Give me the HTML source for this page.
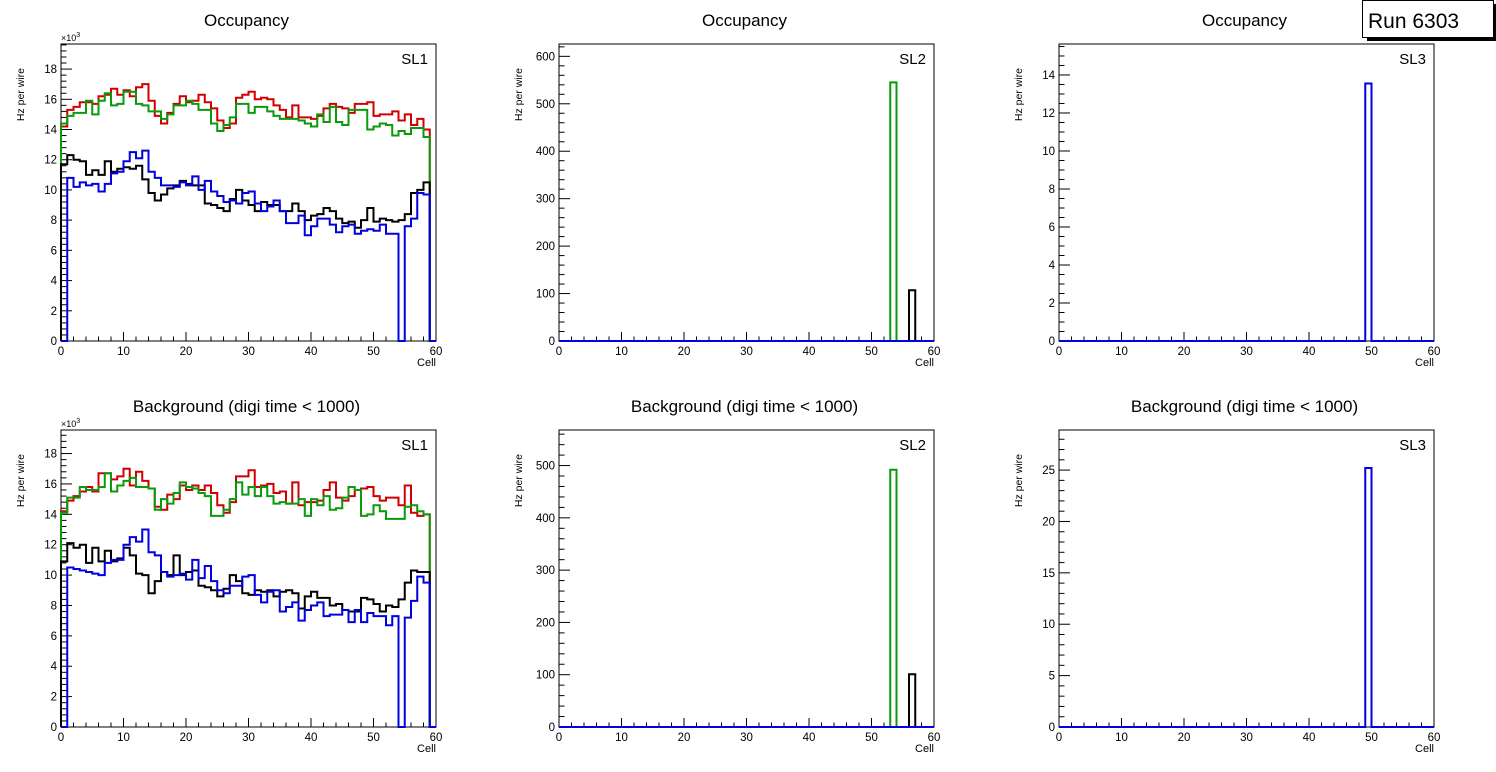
<!DOCTYPE html>
<html><head><meta charset="utf-8"><style>
body{margin:0;background:#fff;width:1496px;height:772px;overflow:hidden;font-family:"Liberation Sans",Arial,sans-serif}
svg{display:block}
</style></head><body>
<svg id="c" width="1496" height="772"></svg>
<script>
const cells = 60;
// SL1 occupancy (x10^3)
const occRed=[14.2,15.3,15.5,15.8,15.8,15.7,16.2,16.3,16.7,16.3,16.6,16.2,16.8,17.0,15.9,14.9,14.4,15.1,15.7,16.2,15.8,15.9,16.3,15.8,15.4,14.6,14.1,14.4,16.1,16.3,16.5,16.0,16.1,16.0,15.6,15.3,14.8,15.6,14.8,14.8,14.7,14.9,15.4,15.7,15.5,15.4,15.1,15.7,15.7,15.8,14.9,15.0,15.0,15.2,14.6,15.0,14.3,14.7,14.0,0];
const occGreen=[14.4,14.9,15.1,15.1,15.9,15.0,15.9,16.4,15.6,15.7,16.5,16.5,15.7,15.6,15.2,15.2,14.7,15.0,15.6,15.6,15.9,15.7,15.3,15.3,14.4,13.9,14.3,14.8,15.7,15.7,15.1,15.5,15.5,15.2,14.9,14.7,14.7,14.7,14.6,14.4,14.2,15.0,14.5,15.5,14.5,14.3,15.3,15.3,15.3,14.0,14.2,14.4,14.3,13.6,13.9,13.7,14.1,14.1,13.5,0];
const occBlack=[11.7,12.3,12.0,11.9,11.0,11.3,11.0,11.9,11.2,11.4,11.5,11.4,11.6,10.7,9.8,9.3,9.7,10.1,10.3,10.6,10.4,10.3,10.3,9.1,9.0,8.8,8.6,9.4,10.0,9.3,9.0,8.6,9.2,9.0,9.0,8.6,8.6,9.1,8.6,8.0,8.3,8.4,8.8,8.6,8.1,7.8,7.9,7.5,8.0,8.8,7.9,8.1,8.0,7.9,8.0,8.4,9.8,10.0,10.5,0];
const occBlue=[0,10.8,10.2,10.5,10.3,10.4,9.9,10.4,11.1,11.2,11.9,12.5,12.1,12.6,11.2,10.8,10.3,10.3,10.2,10.5,10.3,10.9,10.0,10.6,9.9,9.6,9.2,9.3,9.1,9.8,9.9,9.1,8.6,8.9,9.3,8.6,7.8,7.8,8.3,7.0,7.6,8.1,8.1,7.7,7.2,7.6,7.7,7.1,7.3,7.4,7.3,7.7,7.1,7.1,0,7.6,8.1,9.8,9.7,0];
// SL1 background (x10^3)
const bkgRed=[14.2,14.9,15.2,15.5,15.8,15.5,16.7,16.7,16.3,16.5,17.0,15.9,16.8,16.2,15.7,14.5,14.3,15.3,15.0,15.9,15.6,15.9,15.6,15.9,15.4,14.6,14.1,14.8,16.5,16.5,16.9,15.8,15.9,16.0,15.4,15.5,14.7,16.1,14.6,14.8,14.8,14.9,15.6,16.1,15.1,14.9,15.2,15.6,15.7,15.8,15.2,14.9,15.1,15.1,14.6,15.9,14.1,13.9,14.0,0];
const bkgGreen=[14.1,15.1,15.1,15.8,15.6,15.6,15.8,16.7,15.5,15.9,16.2,16.4,15.8,15.8,15.7,14.3,15.0,14.7,15.4,16.1,15.8,15.7,15.4,15.2,13.9,13.9,14.3,15.0,16.1,15.3,15.8,15.2,15.8,15.2,14.7,14.8,14.7,14.7,15.0,13.9,15.0,14.6,15.2,14.3,14.4,15.1,15.8,15.6,13.9,14.0,14.6,14.2,13.7,13.7,13.7,14.5,14.6,14.2,14.0,0];
const bkgBlack=[10.9,12.1,11.8,12.0,10.8,11.8,10.9,11.6,10.9,11.1,11.8,11.3,10.1,10.0,8.8,9.6,10.2,10.0,11.3,10.0,10.2,10.3,9.3,9.2,9.0,8.6,9.1,10.0,9.6,8.8,8.7,9.0,8.9,9.0,8.6,8.9,9.0,8.8,7.8,8.6,8.9,8.5,8.5,8.0,8.1,7.7,7.6,7.6,8.5,8.4,8.1,7.6,8.0,7.9,8.4,9.5,10.3,10.2,10.2,0];
const bkgBlue=[0,10.5,10.4,10.3,10.2,10.1,10.0,10.8,11.0,11.0,12.0,12.5,12.2,13.0,11.5,11.3,10.2,9.9,10.0,10.1,9.7,11.0,9.8,10.6,9.6,9.0,8.8,9.3,9.3,9.9,10.0,8.7,8.2,8.9,9.0,7.6,7.9,8.2,7.0,7.7,8.0,8.2,7.3,7.4,7.4,7.7,6.9,7.7,6.9,7.5,7.3,7.3,6.7,7.3,0,7.2,8.3,9.9,9.5,0];
// Spike bins for SL2 / SL3 : [bin, value]
const occSL2Green=[[53,545]], occSL2Black=[[56,107]];
const bkgSL2Green=[[53,492]], bkgSL2Black=[[56,101]];
const occSL3Blue=[[49,13.55]], bkgSL3Blue=[[49,25.2]];

const NS="http://www.w3.org/2000/svg";
const svg=document.getElementById('c');
function mk(tag,attrs,parent){const e=document.createElementNS(NS,tag);for(const k in attrs)e.setAttribute(k,attrs[k]);(parent||svg).appendChild(e);return e;}
function spikes(list){const a=new Array(cells).fill(0);list.forEach(p=>a[p[0]]=p[1]);return a;}

function panel(o){
  const g=mk('g',{});
  
  
  const L=o.x,R=o.x+375,T=o.y,B=o.y+297;
  const xs=v=>L+(v/cells)*(R-L);
  const ys=v=>B-(v/o.ymax)*(B-T);
  const t=mk('text',{x:(L+R)/2-2,y:T-18,'text-anchor':'middle','font-size':17,fill:'#000'},g);t.textContent=o.title;
  
  const fr=mk('rect',{x:L,y:T,width:R-L,height:B-T,fill:'none',stroke:'#000','stroke-width':1},g);
  
  // x ticks
  for(let v=0;v<=60;v+=2){const maj=v%10==0;mk('line',{x1:xs(v),x2:xs(v),y1:B,y2:B-(maj?9:4.5),stroke:'#000'},g);
    if(maj){const tx=mk('text',{x:xs(v),y:B+14,'text-anchor':'middle','font-size':11.5},g);tx.textContent=v;}}
  const xl=mk('text',{x:R,y:B+25,'text-anchor':'end','font-size':11},g);xl.textContent='Cell';
  
  // y ticks
  for(let k=0;k*o.minor<=o.ymax+1e-9;k++){const v=k*o.minor;const maj=k%o.sub==0;
    mk('line',{x1:L,x2:L+(maj?11:5.5),y1:ys(v),y2:ys(v),stroke:'#000'},g);
    if(maj){const ty=mk('text',{x:L-4,y:ys(v)+4,'text-anchor':'end','font-size':11.5},g);ty.textContent=o.fmt?o.fmt(v):v;}}
  const yl=mk('text',{transform:`translate(${L-37},${T+24}) rotate(-90)`,'text-anchor':'end','font-size':10.5},g);yl.textContent='Hz per wire';
  
  if(o.exp){const ex=mk('text',{x:L,y:T-3,'font-size':9},g);ex.innerHTML='×10<tspan dy="-4" font-size="7">3</tspan>';}
  const sl=mk('text',{x:R-8,y:T+20,'text-anchor':'end','font-size':15},g);sl.textContent=o.sl;
  
  // series (drawn over frame)
  o.series.forEach((s,si)=>{
    let d='M'+xs(0)+','+ys(0);
    for(let i=0;i<cells;i++){d+=' L'+xs(i)+','+ys(s.v[i])+' L'+xs(i+1)+','+ys(s.v[i]);}
    d+=' L'+xs(cells)+','+ys(0);
    const p=mk('path',{d:d,fill:'none',stroke:s.c,'stroke-width':2},g);
    
  });
}
const Z=new Array(cells).fill(0);
const r=v=>Math.round(v);
panel({name:'occupancy-sl1',x:61,y:44,title:'Occupancy',sl:'SL1',ymax:19.66,minor:0.4,sub:5,exp:true,fmt:r,
  series:[{v:occRed,c:'#d00000',n:'series-red'},{v:occGreen,c:'#0a9a0a',n:'series-green'},{v:occBlack,c:'#000',n:'series-black'},{v:occBlue,c:'#0000e0',n:'series-blue'}]});
panel({name:'background-sl1',x:61,y:430,title:'Background (digi time < 1000)',sl:'SL1',ymax:19.55,minor:0.4,sub:5,exp:true,fmt:r,
  series:[{v:bkgRed,c:'#d00000',n:'series-red'},{v:bkgGreen,c:'#0a9a0a',n:'series-green'},{v:bkgBlack,c:'#000',n:'series-black'},{v:bkgBlue,c:'#0000e0',n:'series-blue'}]});
panel({name:'occupancy-sl2',x:559,y:44,title:'Occupancy',sl:'SL2',ymax:626,minor:20,sub:5,
  series:[{v:spikes(occSL2Green),c:'#0a9a0a',n:'series-green'},{v:spikes(occSL2Black),c:'#000',n:'series-black'},{v:Z,c:'#0000e0',n:'series-blue'}]});
panel({name:'background-sl2',x:559,y:430,title:'Background (digi time < 1000)',sl:'SL2',ymax:568,minor:20,sub:5,
  series:[{v:spikes(bkgSL2Green),c:'#0a9a0a',n:'series-green'},{v:spikes(bkgSL2Black),c:'#000',n:'series-black'},{v:Z,c:'#0000e0',n:'series-blue'}]});
panel({name:'occupancy-sl3',x:1059,y:44,title:'Occupancy',sl:'SL3',ymax:15.63,minor:0.5,sub:4,
  series:[{v:spikes(occSL3Blue),c:'#0000e0',n:'series-blue'}]});
panel({name:'background-sl3',x:1059,y:430,title:'Background (digi time < 1000)',sl:'SL3',ymax:28.9,minor:1,sub:5,
  series:[{v:spikes(bkgSL3Blue),c:'#0000e0',n:'series-blue'}]});
// run box
const sh=mk('rect',{x:1367,y:4,width:129,height:37,fill:'#000'});

const bx=mk('rect',{x:1362.5,y:0.5,width:131,height:37,fill:'#fff',stroke:'#000'});

const rt=mk('text',{x:1368,y:28,'font-size':21});rt.textContent='Run 6303';

</script>
</body></html>
